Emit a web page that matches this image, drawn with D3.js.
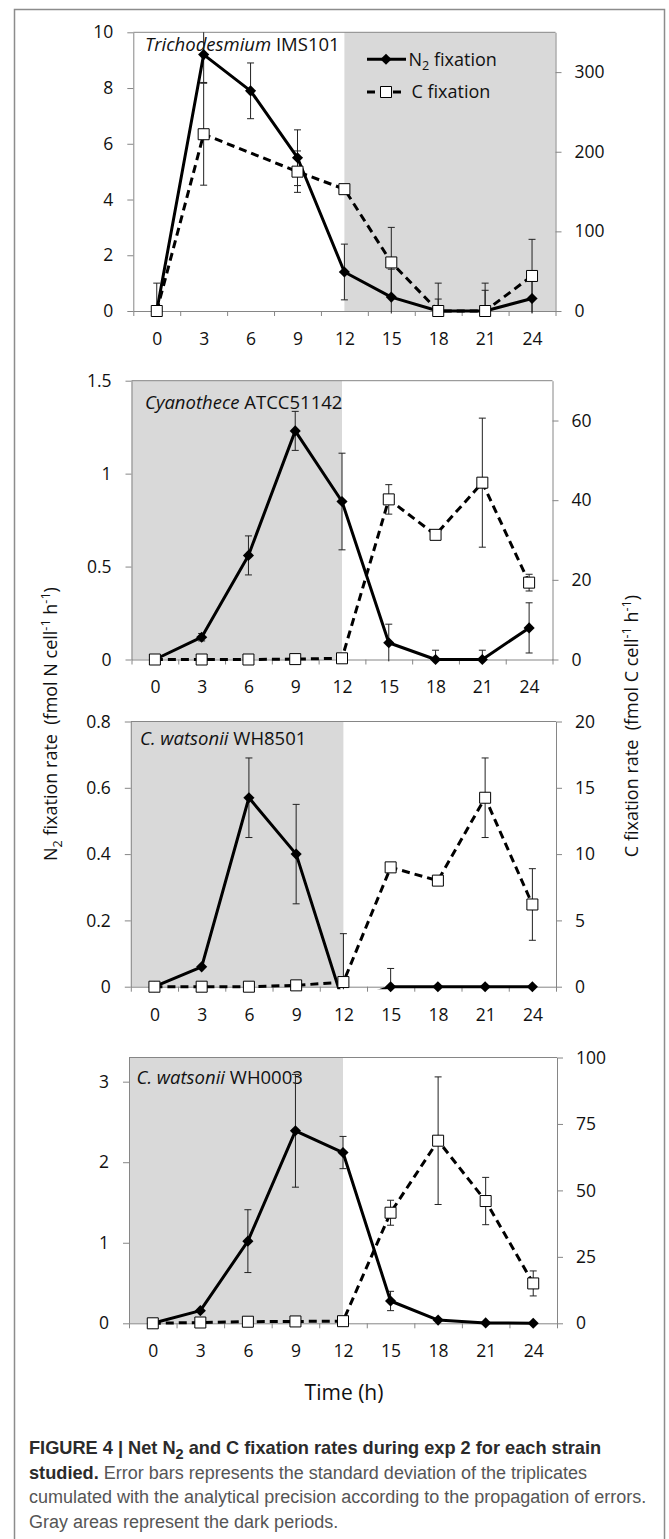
<!DOCTYPE html>
<html>
<head>
<meta charset="utf-8">
<script src="https://cdn.jsdelivr.net/npm/d3@7"></script>
<style>
  body { margin: 0; background: #fff; }
  svg text { font-family: "Open Sans", sans-serif; fill: #111; }
  svg .caption text { font-family: "Liberation Sans", Arial, sans-serif; }
</style>
</head>
<body>
<div id="chart"></div>
<script>
// sampling times (h)
const hours = [0, 3, 6, 9, 12, 15, 18, 21, 24];

// Trichodesmium IMS101
const n2Tricho    = [0, 9.2, 7.9, 5.5, 1.4, 0.5, 0, 0, 0.45];
const n2TrichoErr = [1.0, 1.0, 1.0, 1.0, 1.0, 1.0, 1.0, 1.0, 1.0];
const cTricho     = [0, 222, null, 175, 153, 61, 0, 0, 44];
const cTrichoErr  = [0, 64, null, 26, 5, 44, 15, 26, 46];

// Cyanothece ATCC51142
const n2Cyano    = [0, 0.12, 0.56, 1.23, 0.85, 0.09, 0, 0, 0.17];
const n2CyanoErr = [0, 0.02, 0.105, 0.105, 0.26, 0.10, 0.05, 0.05, 0.135];
const cCyano     = [0, 0, 0, 0.1, 0.3, 40.2, 31.3, 44.4, 19.3];
const cCyanoErr  = [0, 0, 0, 0, 0, 3.7, 1, 16.2, 2.1];

// C. watsonii WH8501
const n2W8501    = [0, 0.06, 0.57, 0.40, -0.05, 0, 0, 0, 0];
const n2W8501Err = [0, 0, 0.12, 0.15, 0.21, 0.055, 0, 0, 0];
const cW8501     = [0, 0, 0, 0.1, 0.35, 9.0, 8.0, 14.25, 6.2];
const cW8501Err  = [0, 0, 0, 0, 0, 0, 0, 3.0, 2.7];

// C. watsonii WH0003
const n2W0003    = [0, 0.157, 1.02, 2.39, 2.12, 0.277, 0.04, 0.005, 0];
const n2W0003Err = [0, 0, 0.39, 0.70, 0.20, 0.12, 0, 0, 0];
const cW0003     = [0, 0.3, 0.6, 0.7, 0.8, 41.6, 68.7, 46.0, 15.0];
const cW0003Err  = [0, 0, 0, 0, 0, 4.7, 24, 8.9, 4.7];

// axis ranges and ticks
const leftMax    = [10, 1.5, 0.8, 3.3];
const leftTicks  = [[0, 2, 4, 6, 8, 10], [0, 0.5, 1, 1.5], [0, 0.2, 0.4, 0.6, 0.8], [0, 1, 2, 3]];
const rightMax   = [350, 70, 20, 100];
const rightTicks = [[0, 100, 200, 300], [0, 20, 40, 60], [0, 5, 10, 15, 20], [0, 25, 50, 75, 100]];

const strains = [
  ["Trichodesmium", " IMS101"],
  ["Cyanothece", " ATCC51142"],
  ["C. watsonii", " WH8501"],
  ["C. watsonii", " WH0003"]
];
const darkAfter = [true, false, false, false]; // which side of 12 h is shaded

const panels = strains.map((s, i) => ({
  strain: s,
  n2: [n2Tricho, n2Cyano, n2W8501, n2W0003][i],
  n2Err: [n2TrichoErr, n2CyanoErr, n2W8501Err, n2W0003Err][i],
  c: [cTricho, cCyano, cW8501, cW0003][i],
  cErr: [cTrichoErr, cCyanoErr, cW8501Err, cW0003Err][i],
  leftMax: leftMax[i], leftTicks: leftTicks[i],
  rightMax: rightMax[i], rightTicks: rightTicks[i],
  darkAfter: darkAfter[i]
}));

// plot boxes in page pixels
const boxes = [
  { left: 133.3, right: 555.5, top: 32.3,   bottom: 311,    nameX: 145,   nameY: 51 },
  { left: 131.5, right: 552.5, top: 380.7,  bottom: 659.5,  nameX: 145,   nameY: 408.5 },
  { left: 130.8, right: 556,   top: 721.5,  bottom: 986.7,  nameX: 140,   nameY: 745 },
  { left: 129,   right: 557,   top: 1057.5, bottom: 1323.3, nameX: 136.5, nameY: 1084 }
];

const W = 669, H = 1539;
const axisColor = "#868686";
const shade = "#d9d9d9";
const tickFont = 17.5;

const svg = d3.select("#chart")
  .append("svg")
    .attr("width", W)
    .attr("height", H);

// writes a list of text parts (italic / sub / sup / bold) into a text element
function rich(sel, parts, fs) {
  let shift = 0;
  parts.forEach(p => {
    const ts = sel.append("tspan").text(p.t);
    let target = 0;
    if (p.sub) target = fs * 0.25;
    if (p.sup) target = -fs * 0.38;
    if (target !== shift) { ts.attr("dy", target - shift); shift = target; }
    if (p.sub || p.sup) ts.attr("font-size", fs * (p.scale || 0.7));
    else if (p.fs) ts.attr("font-size", p.fs);
    if (p.i) ts.attr("font-style", "italic");
    if (p.b) ts.attr("font-weight", "bold");
    if (p.fill) ts.attr("fill", p.fill);
  });
}

// frame round the whole figure
svg.append("rect")
  .attr("x", 14.5).attr("y", 9.5)
  .attr("width", 650).attr("height", H + 20)
  .attr("fill", "none")
  .attr("stroke", "#8c8c8c")
  .attr("stroke-width", 1.5);

const diamond = d3.symbol().type(d3.symbolSquare).size(62);
const square = d3.symbol().type(d3.symbolSquare).size(121);

panels.forEach((p, pi) => {
  const b = boxes[pi];
  const g = svg.append("g");

  const x = d3.scaleLinear().domain([-1.5, 25.5]).range([b.left, b.right]);
  const yL = d3.scaleLinear().domain([0, p.leftMax]).range([b.bottom, b.top]);
  const yR = d3.scaleLinear().domain([0, p.rightMax]).range([b.bottom, b.top]);

  // dark period
  const x12 = x(12);
  g.append("rect")
    .attr("x", p.darkAfter ? x12 : b.left)
    .attr("y", b.top)
    .attr("width", p.darkAfter ? b.right - x12 : x12 - b.left)
    .attr("height", b.bottom - b.top)
    .attr("fill", shade);

  // top border
  g.append("line")
    .attr("x1", b.left).attr("x2", b.right)
    .attr("y1", b.top).attr("y2", b.top)
    .attr("stroke", axisColor);

  // left axis
  const gl = g.append("g")
    .attr("transform", `translate(${b.left},0)`)
    .call(d3.axisLeft(yL).tickValues(p.leftTicks).tickSize(6).tickSizeOuter(0)
      .tickPadding(14).tickFormat(String));

  // right axis
  const gr = g.append("g")
    .attr("transform", `translate(${b.right},0)`)
    .call(d3.axisRight(yR).tickValues(p.rightTicks).tickSize(6).tickSizeOuter(0)
      .tickPadding(13).tickFormat(String));

  // bottom axis: tick marks between categories, labels on categories
  const gb = g.append("g")
    .attr("transform", `translate(0,${b.bottom})`)
    .call(d3.axisBottom(x).tickValues(d3.range(-1.5, 26, 3)).tickSize(5)
      .tickSizeOuter(0).tickFormat(""));
  const gbl = g.append("g")
    .attr("transform", `translate(0,${b.bottom})`)
    .call(d3.axisBottom(x).tickValues(hours).tickSize(0).tickPadding(21.5)
      .tickFormat((d, i) => hours.map(String)[i]));
  gbl.select(".domain").remove();

  [gl, gr, gb, gbl].forEach(a => {
    a.attr("font-family", null).attr("font-size", tickFont);
    a.selectAll("path, line").attr("stroke", axisColor);
    a.selectAll("text").attr("fill", "#111");
  });

  // strain name
  const name = g.append("text")
    .attr("x", b.nameX).attr("y", b.nameY)
    .attr("font-size", 18.5)
    .style("white-space", "pre");
  rich(name, [{ t: p.strain[0], i: true }, { t: p.strain[1] }], 18.5);

  // clip for lines and error bars
  const clipId = `clip${pi}`;
  svg.append("clipPath").attr("id", clipId)
    .append("rect")
      .attr("x", b.left - 2).attr("y", b.top)
      .attr("width", b.right - b.left + 4)
      .attr("height", b.bottom - b.top + 2.5);

  const n2Data = hours.map((h, i) => ({ h, v: p.n2[i], e: p.n2Err[i] }));
  const cData = hours.map((h, i) => ({ h, v: p.c[i], e: p.cErr[i] }))
    .filter(d => d.v != null);

  const clipped = g.append("g").attr("clip-path", `url(#${clipId})`);

  // error bars
  const errBars = (data, y, max) => {
    data.filter(d => d.e > 0).forEach(d => {
      const lo = d.v - d.e, hi = d.v + d.e;
      clipped.append("line")
        .attr("x1", x(d.h)).attr("x2", x(d.h))
        .attr("y1", y(lo)).attr("y2", y(hi))
        .attr("stroke", "#222").attr("stroke-width", 1);
      [lo, hi].filter(v => v >= 0 && v <= max).forEach(v => {
        clipped.append("line")
          .attr("x1", x(d.h) - 3.5).attr("x2", x(d.h) + 3.5)
          .attr("y1", y(v)).attr("y2", y(v))
          .attr("stroke", "#222").attr("stroke-width", 1);
      });
    });
  };
  errBars(n2Data, yL, p.leftMax);
  errBars(cData, yR, p.rightMax);

  // N2 series
  clipped.append("path")
    .datum(n2Data)
    .attr("fill", "none")
    .attr("stroke", "#000")
    .attr("stroke-width", 3)
    .attr("stroke-linejoin", "round")
    .attr("d", d3.line().x(d => x(d.h)).y(d => yL(d.v)));

  g.selectAll(null)
    .data(n2Data.filter(d => d.v >= 0))
    .enter()
    .append("path")
      .attr("d", diamond)
      .attr("transform", d => `translate(${x(d.h)},${yL(d.v)}) rotate(45)`)
      .attr("fill", "#000");

  // C series
  clipped.append("path")
    .datum(cData)
    .attr("fill", "none")
    .attr("stroke", "#000")
    .attr("stroke-width", 3)
    .attr("stroke-dasharray", "8,5")
    .attr("d", d3.line().x(d => x(d.h)).y(d => yR(d.v)));

  g.selectAll(null)
    .data(cData)
    .enter()
    .append("path")
      .attr("d", square)
      .attr("transform", d => `translate(${x(d.h)},${yR(d.v)})`)
      .attr("fill", "#fff")
      .attr("stroke", "#000")
      .attr("stroke-width", 1);

  // legend in the first panel
  if (pi === 0) {
    const lg = svg.append("g");
    const items = [
      { y: 59.3, dash: null, mark: "diamond", parts: [{ t: "N" }, { t: "2", sub: true }, { t: " fixation" }] },
      { y: 92, dash: "8,5", mark: "square", parts: [{ t: "C fixation" }] }
    ];
    items.forEach(it => {
      lg.append("line")
        .attr("x1", 367).attr("x2", 406)
        .attr("y1", it.y).attr("y2", it.y)
        .attr("stroke", "#000").attr("stroke-width", 3)
        .attr("stroke-dasharray", it.dash);
      if (it.mark === "diamond") {
        lg.append("path").attr("d", diamond)
          .attr("transform", `translate(386,${it.y}) rotate(45)`)
          .attr("fill", "#000");
      } else {
        lg.append("path").attr("d", square)
          .attr("transform", `translate(386,${it.y})`)
          .attr("fill", "#fff").attr("stroke", "#000");
      }
      const t = lg.append("text")
        .attr("x", it.mark === "diamond" ? 408.5 : 411.5)
        .attr("y", it.y + 6.3)
        .attr("font-size", 18)
        .style("white-space", "pre");
      rich(t, it.parts, 18);
    });
  }
});

// shared axis titles
const leftTitle = svg.append("text")
  .attr("transform", "translate(57,724) rotate(-90)")
  .attr("text-anchor", "middle")
  .attr("font-size", 18)
  .style("white-space", "pre");
rich(leftTitle, [
  { t: "N" }, { t: "2", sub: true }, { t: " fixation rate  (fmol N cell" },
  { t: "-1", sup: true }, { t: " h" }, { t: "-1", sup: true }, { t: ")" }
], 18);

const rightTitle = svg.append("text")
  .attr("transform", "translate(638,726) rotate(-90)")
  .attr("text-anchor", "middle")
  .attr("font-size", 18)
  .style("white-space", "pre");
rich(rightTitle, [
  { t: "C fixation rate  (fmol C cell" }, { t: "-1", sup: true },
  { t: " h" }, { t: "-1", sup: true }, { t: ")" }
], 18);

svg.append("text")
  .attr("x", 344).attr("y", 1400)
  .attr("text-anchor", "middle")
  .attr("font-size", 21)
  .text("Time (h)");

// caption
const cap = svg.append("g").attr("class", "caption");
const bold = "#2b2b2b", grey = "#555";
const capLines = [
  [{ t: "FIGURE 4 | Net N", b: true, fill: bold }, { t: "2", b: true, sub: true, scale: 0.8, fill: bold },
   { t: " and C fixation rates during exp 2 for each strain", b: true, fill: bold }],
  [{ t: "studied.", b: true, fill: bold }, { t: " Error bars represents the standard deviation of the triplicates", fs: 18, fill: grey }],
  [{ t: "cumulated with the analytical precision according to the propagation of errors.", fs: 18, fill: grey }],
  [{ t: "Gray areas represent the dark periods.", fs: 18, fill: grey }]
];
const capBase = [1454, 1478.5, 1503, 1527.5];
capLines.forEach((parts, i) => {
  const t = cap.append("text")
    .attr("x", 29).attr("y", capBase[i])
    .attr("font-size", 18.2)
    .style("white-space", "pre");
  rich(t, parts, 18.2);
});
</script>
</body>
</html>
